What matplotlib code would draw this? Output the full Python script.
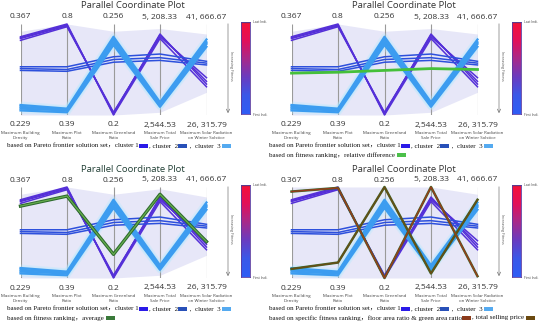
import matplotlib
matplotlib.use('Agg')
import matplotlib.pyplot as plt
import numpy as np
from matplotlib.colors import LinearSegmentedColormap
from matplotlib.patches import Rectangle

W, H = 550, 326

axis_names = ['Maximum Building\nDensity', 'Maximum Plot\nRatio', 'Maximum Greenland\nRatio',
              'Maximum Total\nSale Price', 'Maximum Solar Radiation\non Winter Solstice']
top_labels = ['0.367', '0.8', '0.256', '5, 208.33', '41, 666.67']
bottom_labels = ['0.229', '0.39', '0.2', '2,544.53', '26, 315.79']

# position on each axis, 0 = bottom label, 1 = top label
cluster1 = [[0.82, 0.97, 0.03, 0.86, 0.41],
            [0.84, 0.98, 0.02, 0.88, 0.37],
            [0.85, 0.99, 0.01, 0.89, 0.34],
            [0.86, 1.00, 0.00, 0.84, 0.31]]
cluster2 = [[0.53, 0.53, 0.64, 0.67, 0.59],
            [0.51, 0.50, 0.61, 0.63, 0.57],
            [0.49, 0.48, 0.58, 0.60, 0.55]]
cluster3 = [[0.11, 0.07, 0.86, 0.14, 0.83],
            [0.09, 0.06, 0.83, 0.12, 0.80],
            [0.07, 0.05, 0.80, 0.10, 0.78],
            [0.05, 0.03, 0.77, 0.09, 0.75]]
relative_diff = [0.46, 0.47, 0.49, 0.51, 0.50]
average = [0.79, 0.90, 0.26, 0.92, 0.40]
floor_green = [0.10, 0.17, 1.00, 0.05, 0.86]
selling_price = [0.95, 0.99, 0.00, 1.00, 0.02]

c1, c2, c3 = '#5530d8', '#2d50dc', '#3c9cf0'
box1, box2, box3 = '#2a1ae8', '#2850b8', '#55aaf0'

SANS = ['Liberation Sans Narrow', 'Open Sans', 'DejaVu Sans']
SERIF = ['Liberation Serif', 'Noto Sans CJK SC']

fig = plt.figure(figsize=(W / 100, H / 100), dpi=100)
ov = fig.add_axes([0, 0, 1, 1], zorder=10)
ov.set_xlim(0, W)
ov.set_ylim(H, 0)
ov.axis('off')
ov.patch.set_alpha(0)

cmap = LinearSegmentedColormap.from_list('fit', ['#2f5df5', '#3b58e8', '#6a3cc0', '#a82a8a', '#e2105a', '#f5103a'])


def legend_line(x, y, parts):
    r = fig.canvas.get_renderer()
    for kind, val in parts:
        if kind == 't':
            t = ov.text(x, y, val, fontsize=5.0, family=SERIF, va='center', ha='left', color='#111111')
            x += t.get_window_extent(r).width * W / fig.bbox.width
        else:
            ov.add_patch(Rectangle((x, y - 2), 9, 4, color=val, lw=0))
            x += 10


def draw_panel(ox, oy, extras, legend2, title_color='#333333'):
    ax = fig.add_axes([(ox + 20.5) / W, 1 - (oy + 115) / H, 186 / W, 91 / H])
    ax.set_xlim(0, 4)
    ax.set_ylim(0, 1)
    ax.axis('off')
    xs = np.arange(5)

    allv = np.array(cluster1 + cluster2 + cluster3 + [e[0] for e in extras])
    lo = np.clip(allv.min(0) - 0.06, 0, 1)
    hi = np.clip(allv.max(0) + 0.06, 0, 1)
    ax.fill_between(xs, lo, hi, color='#e7e7f8', lw=0, zorder=0)
    ax.vlines(xs, 0, 1, color='#9a9a9a', lw=0.8, zorder=1)

    for row in cluster3:
        ax.plot(xs, row, color='#b0e8ff', lw=5, alpha=0.3, zorder=2, solid_capstyle='round')
    for row in cluster1:
        ax.plot(xs, row, color=c1, lw=1.1, zorder=3, clip_on=False)
    for row in cluster2:
        ax.plot(xs, row, color=c2, lw=1.1, zorder=3, clip_on=False)
    for row in cluster3:
        ax.plot(xs, row, color=c3, lw=1.6, zorder=3, clip_on=False)
    for vals, styles in extras:
        for col, lw in styles:
            ax.plot(xs, vals, color=col, lw=lw, zorder=4, clip_on=False)

    # colour bar
    cax = fig.add_axes([(ox + 241) / W, 1 - (oy + 114) / H, 9 / W, 92 / H])
    cax.imshow(np.linspace(0, 1, 100).reshape(-1, 1), cmap=cmap, aspect='auto',
               origin='lower', extent=[0, 1, 0, 1])
    cax.axhline(0.995, color='#6b3a2a', lw=1)
    cax.set_xticks([])
    cax.set_yticks([])
    for s in cax.spines.values():
        s.set_color('#5a3aa0')
        s.set_linewidth(0.6)

    # text in pixel coordinates
    ov.text(ox + 133, oy + 6, 'Parallel Coordinate Plot', fontsize=6.8, family=SANS,
            ha='center', va='center', color=title_color)
    for i in range(5):
        px = ox + 20.5 + i * 46.5
        ov.text(px, oy + 17, top_labels[i], fontsize=6, family=SANS, ha='center', va='center', color='#333333')
        ov.text(px, oy + 125, bottom_labels[i], fontsize=6, family=SANS, ha='center', va='center', color='#333333')
        ov.text(px, oy + 135.5, axis_names[i], fontsize=3.2, family=SANS, ha='center', va='center',
                color='#444444', linespacing=1.2)
    ov.annotate('', xy=(ox + 228, oy + 116), xytext=(ox + 228, oy + 21),
                arrowprops=dict(arrowstyle='->', color='#777777', lw=0.5, mutation_scale=6))
    ov.text(ox + 231, oy + 66, 'Increasing Fitness', fontsize=2.6, family=SANS, rotation=270,
            ha='center', va='center', color='#555555')
    ov.text(ox + 253, oy + 22, 'Last Indi.', fontsize=2.4, family=SANS, ha='left', va='center', color='#444444')
    ov.text(ox + 253, oy + 115, 'First Indi.', fontsize=2.4, family=SANS, ha='left', va='center', color='#444444')

    lx = 7 if ox == 0 else 269
    legend_line(lx, oy + 146, [('t', 'based on Pareto frontier solution set，cluster 1'), ('b', box1),
                               ('t', ', cluster  2'), ('b', box2), ('t', ' ,  cluster  3 '), ('b', box3)])
    if legend2:
        legend_line(lx, oy + 155, legend2)


draw_panel(0, 0, [], None)
draw_panel(271, 0, [(relative_diff, [('#45c03a', 2.0)])],
           [('t', 'based on fitness ranking，relative difference '), ('b', '#4cc04a')])
draw_panel(0, 163, [(average, [('#2d6a2d', 2.4), ('#66ad4e', 0.9)])],
           [('t', 'based on fitness ranking，average '), ('b', '#3a7a3a')], title_color='#1f3d33')
draw_panel(271, 163, [(floor_green, [('#3d6a2a', 1.8), ('#6b4a14', 1.0)]),
                      (selling_price, [('#3d6a2a', 1.8), ('#9a3a1a', 1.0)])],
           [('t', 'based on specific fitness ranking，floor area ratio & green area ratio'), ('b', '#8b3a1a'),
            ('t', ', total selling price '), ('b', '#6b4a10')])

fig.savefig('out.png', dpi=100)
